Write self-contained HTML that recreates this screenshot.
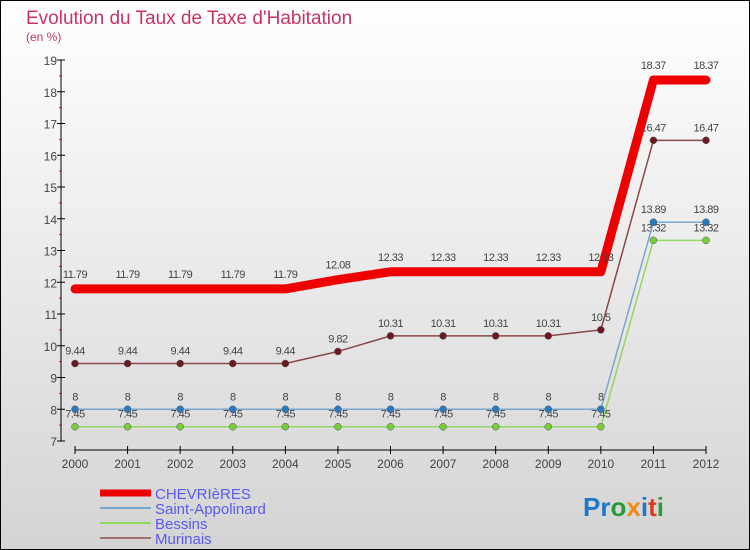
<!DOCTYPE html>
<html><head><meta charset="utf-8"><style>
body{margin:0;width:750px;height:550px;overflow:hidden}
svg{display:block;font-family:"Liberation Sans",sans-serif}
</style></head><body>
<svg id="c" width="750" height="550">
<defs><linearGradient id="bg" x1="0" y1="0" x2="0" y2="1"><stop offset="0" stop-color="#ffffff"/><stop offset="1" stop-color="#d4d4d4"/></linearGradient></defs>
<rect x="0.5" y="0.5" width="749" height="549" fill="url(#bg)" stroke="#000"/>
<text x="26" y="24" font-size="19" fill="#c8346a">Evolution du Taux de Taxe d'Habitation</text>
<text x="26" y="41" font-size="12" fill="#c8346a">(en %)</text>
<g id="axes"></g><g id="series"></g><g id="legend"></g>
<text x="583" y="516" font-size="26" font-weight="bold"><tspan fill="#1f78c8">Pr</tspan><tspan fill="#2a9a3a">o</tspan><tspan fill="#f08a10">x</tspan><tspan fill="#1f78c8">i</tspan><tspan fill="#e03a1a">t</tspan><tspan fill="#2a9a3a">i</tspan></text>
</svg>
<script>
const years=[2000,2001,2002,2003,2004,2005,2006,2007,2008,2009,2010,2011,2012];
const yTicks=[7,8,9,10,11,12,13,14,15,16,17,18,19];
const chevrieres=[11.79,11.79,11.79,11.79,11.79,12.08,12.33,12.33,12.33,12.33,12.33,18.37,18.37];
const saintAppolinard=[8,8,8,8,8,8,8,8,8,8,8,13.89,13.89];
const bessins=[7.45,7.45,7.45,7.45,7.45,7.45,7.45,7.45,7.45,7.45,7.45,13.32,13.32];
const murinais=[9.44,9.44,9.44,9.44,9.44,9.82,10.31,10.31,10.31,10.31,10.5,16.47,16.47];
const NS="http://www.w3.org/2000/svg";
const X=i=>75+i*(706-75)/(years.length-1);
const Y=v=>441-(v-7)*(441-60)/12;
function mk(p,t,a){const e=document.createElementNS(NS,t);for(const k in a)e.setAttribute(k,a[k]);p.appendChild(e);return e;}
const ax=document.getElementById('axes');
let l=mk(ax,'line',{x1:61,y1:60,x2:61,y2:441,stroke:'#000'});


l=mk(ax,'line',{x1:75,y1:450,x2:706,y2:450,stroke:'#000'});


yTicks.forEach(v=>{
 mk(ax,'line',{x1:57,y1:Y(v),x2:65,y2:Y(v),stroke:'#000'});
 if(v<19)mk(ax,'line',{x1:59,y1:Y(v+0.5),x2:62,y2:Y(v+0.5),stroke:'#f00'});
 const t=mk(ax,'text',{x:57,y:Y(v)+5,'font-size':12,fill:'#444','text-anchor':'end'});t.textContent=v;
 
 
});
years.forEach((yr,i)=>{
 mk(ax,'line',{x1:X(i),y1:446,x2:X(i),y2:454,stroke:'#000'});
 const t=mk(ax,'text',{x:X(i),y:468,'font-size':12,fill:'#444','text-anchor':'middle'});t.textContent=yr;
 
 
});
const S=[
 {n:'Bessins',d:bessins,c:'#90d860',w:1.5,m:'#7acc3a',lab:1,dy:-9},
 {n:'Saint-Appolinard',d:saintAppolinard,c:'#78a8d0',w:1.5,m:'#2a7ac0',lab:1,dy:-9},
 {n:'Murinais',d:murinais,c:'#8a4848',w:1.5,m:'#6a1a20',lab:1,dy:-9},
 {n:'CHEVRIèRES',d:chevrieres,c:'#ee0000',w:9,m:null,lab:1,dy:-11}];
const sg=document.getElementById('series');
S.forEach(s=>{
 const g=mk(sg,'g',{});
 
 
 const p=mk(g,'polyline',{points:s.d.map((v,i)=>X(i)+','+Y(v)).join(' '),fill:'none',stroke:s.c,'stroke-width':s.w,'stroke-linejoin':'round','stroke-linecap':'round'});
 
 
 s.d.forEach((v,i)=>{
  if(s.m){const c=mk(g,'circle',{cx:X(i),cy:Y(v),r:3.5,fill:s.m,stroke:'#555','stroke-width':0.5});
  
  }
  const t=mk(g,'text',{x:X(i),y:Y(v)+s.dy,'font-size':11,fill:'#444','text-anchor':'middle','letter-spacing':'-0.5'});t.textContent=v;
  
  
 });
});
const lg=document.getElementById('legend');
[['CHEVRIèRES','#ee0000',7],['Saint-Appolinard','#78a8d0',2],['Bessins','#90d860',2],['Murinais','#a07070',2]].forEach((e,i)=>{
 const y=493+i*15;
 const g=mk(lg,'g',{});
 
 
 mk(g,'line',{x1:100,y1:y,x2:151,y2:y,stroke:e[1],'stroke-width':e[2]});
 const t=mk(g,'text',{x:155,y:y+6,'font-size':15,fill:'#5a5af0'});t.textContent=e[0];
});
</script>
</body></html>
